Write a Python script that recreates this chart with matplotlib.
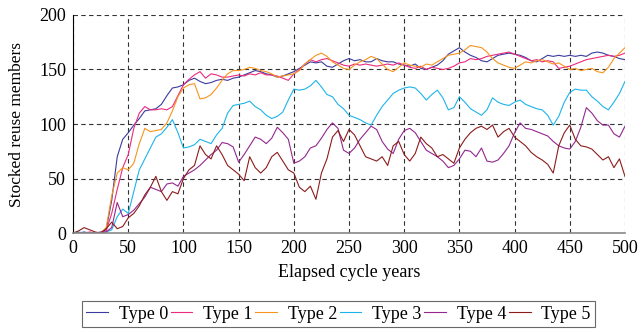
import numpy as np
import matplotlib
matplotlib.use('Agg')
import matplotlib.pyplot as plt

# values every 5 years
years = np.arange(0, 501, 5)

type0 = [0, 0, 1, 0, 0, 1, 3, 30, 70, 86,
         92, 99, 105, 112, 113, 114, 118, 126, 133, 134,
         136, 140, 142, 139, 137, 138, 140, 141, 140, 142,
         143, 145, 147, 149, 148, 146, 145, 143, 144, 146,
         148, 151, 154, 157, 156, 157, 153, 152, 155, 158,
         160, 158, 159, 157, 157, 160, 158, 157, 157, 155,
         154, 153, 155, 151, 150, 152, 154, 158, 164, 167,
         170, 166, 163, 161, 158, 157, 160, 163, 164, 165,
         164, 163, 161, 158, 157, 160, 163, 162, 163, 162,
         163, 162, 163, 162, 165, 166, 165, 163, 162, 160,
         159]
type1 = [0, 0, 0, 1, 0, 0, 2, 18, 40, 60,
         72, 96, 110, 116, 113, 113, 114, 113, 116, 126,
         136, 141, 145, 148, 142, 146, 145, 143, 143, 144,
         145, 144, 146, 145, 147, 145, 145, 144, 142, 140,
         146, 150, 155, 159, 157, 159, 160, 158, 156, 154,
         153, 155, 154, 155, 154, 153, 154, 155, 154, 156,
         154, 152, 151, 153, 150, 152, 151, 150, 151, 153,
         156, 157, 160, 159, 160, 162, 163, 164, 165, 166,
         164, 162, 160, 158, 159, 157, 158, 157, 151, 152,
         153, 155, 157, 159, 160, 161, 162, 163, 162, 163,
         165]
type2 = [0, 0, 0, 0, 0, 0, 5, 34, 55, 60,
         58, 64, 82, 96, 93, 94, 95, 101, 112, 125,
         133, 136, 137, 123, 124, 127, 133, 140, 146, 149,
         149, 150, 152, 151, 149, 148, 146, 143, 144, 145,
         146, 149, 155, 159, 163, 165, 162, 157, 154, 151,
         150, 154, 157, 159, 162, 160, 155, 150, 148, 152,
         156, 154, 153, 152, 155, 154, 157, 160, 163, 164,
         165, 168, 172, 171, 170, 166, 160, 156, 154, 152,
         151, 154, 157, 156, 158, 159, 157, 155, 156, 153,
         150, 151, 149, 150, 151, 148, 147, 152, 160, 165,
         170]
type3 = [0, 1, 0, 0, 0, 0, 1, 3, 15, 22,
         18, 38, 58, 68, 78, 88, 91, 97, 104, 92,
         78, 79, 81, 86, 84, 82, 90, 96, 110, 117,
         118, 119, 121, 116, 113, 108, 105, 107, 111, 122,
         132, 131, 132, 135, 140, 134, 127, 125, 118, 114,
         108, 106, 104, 101, 99, 108, 116, 122, 128, 131,
         133, 134, 133, 128, 122, 127, 131, 124, 113, 115,
         125, 120, 114, 111, 108, 113, 124, 120, 118, 117,
         120, 122, 118, 116, 114, 113, 108, 99, 107, 120,
         129, 132, 131, 131, 125, 121, 116, 113, 120, 128,
         139]
type4 = [0, 0, 0, 0, 0, 0, 1, 5, 28, 15,
         17, 21, 27, 33, 42, 40, 38, 45, 46, 43,
         52, 55, 58, 62, 67, 72, 76, 83, 82, 79,
         65, 72, 80, 88, 86, 82, 87, 97, 92, 86,
         64, 66, 70, 78, 80, 87, 95, 101, 96, 76,
         73, 78, 86, 92, 98, 95, 84, 77, 73, 86,
         94, 96, 92, 84, 76, 73, 70, 66, 60, 62,
         68, 76, 75, 70, 78, 66, 65, 67, 73, 80,
         92, 101, 96, 95, 93, 91, 89, 84, 80, 78,
         77, 84, 97, 115, 110, 103, 99, 99, 91, 88,
         98]
type5 = [0, 2, 5, 3, 1, 0, 4, 10, 4, 6,
         14, 18, 25, 35, 42, 52, 38, 30, 38, 36,
         50, 58, 62, 80, 72, 68, 80, 72, 62, 58,
         54, 48, 70, 60, 55, 60, 70, 74, 66, 58,
         55, 42, 38, 43, 31, 55, 68, 88, 94, 84,
         95, 90, 80, 70, 68, 66, 70, 62, 80, 84,
         72, 66, 73, 88, 82, 78, 70, 72, 68, 64,
         78, 86, 92, 96, 98, 95, 99, 88, 93, 96,
         88, 84, 80, 74, 70, 67, 63, 55, 80, 92,
         99, 86, 80, 79, 77, 72, 67, 70, 60, 68,
         52]

names = ['Type 0', 'Type 1', 'Type 2', 'Type 3', 'Type 4', 'Type 5']
colors = ['#3B3B9E', '#EC2A7E', '#F7941D', '#1DB4EA', '#93278F', '#8C1C1C']

plt.rcParams['font.family'] = ['Liberation Serif', 'DejaVu Serif']
fig = plt.figure(figsize=(6.41, 3.32), dpi=100)
ax = fig.add_axes([0.114, 0.298, 0.861, 0.657])

for ys, name, c in zip([type0, type1, type2, type3, type4, type5], names, colors):
    ax.plot(years, ys, c=c, lw=0.8, label=name)

ax.set_xlim(0, 500)
ax.set_ylim(0, 200)
ax.set_xticks(np.arange(0, 501, 50))
ax.set_yticks(np.arange(0, 201, 50))
ax.tick_params(length=0, labelsize=13, pad=5)
ax.grid(ls=(0, (4, 3)), lw=0.8, c='#333333')
ax.spines['top'].set_visible(False)
ax.spines['right'].set_visible(False)
ax.spines['left'].set_color('black')
ax.spines['bottom'].set_color('#888888')
ax.spines['bottom'].set_linewidth(1.2)
ax.set_xlabel('Elapsed cycle years', fontsize=13, labelpad=5)
ax.set_ylabel('Stocked reuse members', fontsize=12.5, labelpad=10)

leg = fig.legend(loc='center', bbox_to_anchor=(0.528, 0.054), ncol=6, fontsize=13,
                 fancybox=False, edgecolor='#444444', handlelength=1.2,
                 handletextpad=0.6, columnspacing=0.15, borderpad=0.25)
leg.get_frame().set_linewidth(0.8)

fig.savefig('out.png', dpi=100)
